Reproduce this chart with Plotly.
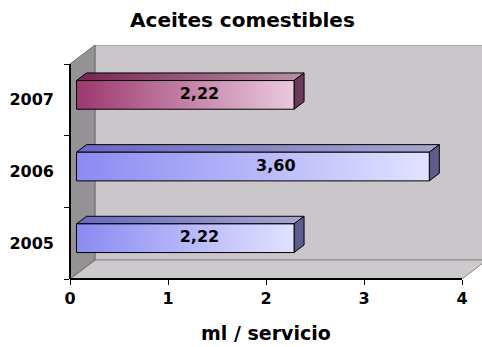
import plotly.graph_objects as go

# --- data ---------------------------------------------------------------
years = ["2005", "2006", "2007"]
values = [2.22, 3.60, 2.22]
x_ticks = [0, 1, 2, 3, 4]
title_text = "Aceites comestibles"
x_title = "ml / servicio"

# --- 3D projection helpers (oblique: depth goes right and up) ------------
DX = 25 / 98.0     # depth shift along x (axis units) for full depth
DY = 19 / 71.67    # depth shift along y (category units) for full depth
XMAX = 4.0
YLO, YHI = -0.5, len(years) - 0.5
HALF = 0.2         # half bar thickness
ZF, ZB = 0.26, 0.66  # bar front/back depth


def proj(x, y, z):
    return x + z * DX, y + z * DY


def poly(pts):
    xs, ys = zip(*[proj(*p) for p in pts])
    return list(xs) + [xs[0]], list(ys) + [ys[0]]


def face(pts, fill=None, grad=None, line="#000000", lw=1):
    xs, ys = poly(pts)
    kw = dict(x=xs, y=ys, mode="lines", fill="toself",
              line=dict(color=line, width=lw), hoverinfo="skip",
              showlegend=False)
    if grad is not None:
        kw["fillgradient"] = dict(type="horizontal", colorscale=grad)
    else:
        kw["fillcolor"] = fill
    return go.Scatter(**kw)


fig = go.Figure()

# walls and floor
fig.add_trace(face([(0, YLO, 1), (XMAX, YLO, 1), (XMAX, YHI, 1), (0, YHI, 1)],
                   fill="#CAC6CA", line="#8A888A"))
fig.add_trace(face([(0, YLO, 0), (XMAX, YLO, 0), (XMAX, YLO, 1), (0, YLO, 1)],
                   fill="#CDC9CD", line="#8A888A"))
fig.add_trace(face([(0, YLO, 0), (0, YHI, 0), (0, YHI, 1), (0, YLO, 1)],
                   fill="#949294", line="#6E6E6E"))

# bar colours per year
styles = {
    "2005": dict(front=[[0, "#8A8AF2"], [1, "#E2E2FF"]],
                 top=[[0, "#6868C2"], [1, "#A6A6CE"]], side="#5C5C8E"),
    "2006": dict(front=[[0, "#8A8AF2"], [1, "#E2E2FF"]],
                 top=[[0, "#6868C2"], [1, "#A6A6CE"]], side="#5C5C8E"),
    "2007": dict(front=[[0, "#9C3870"], [1, "#EAC9DC"]],
                 top=[[0, "#782452"], [1, "#B892A4"]], side="#6A3A5A"),
}

for i, (yr, v) in enumerate(zip(years, values)):
    s = styles[yr]
    lo, hi = i - HALF, i + HALF
    # top face
    fig.add_trace(face([(0, hi, ZF), (v, hi, ZF), (v, hi, ZB), (0, hi, ZB)],
                       grad=s["top"]))
    # right end face
    fig.add_trace(face([(v, lo, ZF), (v, hi, ZF), (v, hi, ZB), (v, lo, ZB)],
                       fill=s["side"]))
    # front face
    fig.add_trace(face([(0, lo, ZF), (v, lo, ZF), (v, hi, ZF), (0, hi, ZF)],
                       grad=s["front"]))

# value labels
lx, ly = [], []
for i, v in enumerate(values):
    px, py = proj(v * 0.565, i, ZF)
    lx.append(px)
    ly.append(py)
fig.add_trace(go.Scatter(
    x=lx, y=ly, mode="text",
    text=[f"{v:.2f}".replace(".", ",") for v in values],
    textfont=dict(family="DejaVu Sans", size=16, color="#000000", weight="bold"),
    hoverinfo="skip", showlegend=False, cliponaxis=False))

tick_font = dict(family="DejaVu Sans", size=16, color="#000000", weight="bold")

fig.update_layout(
    width=482, height=347,
    margin=dict(l=70, r=0, t=45, b=68),
    paper_bgcolor="#FFFFFF", plot_bgcolor="#FFFFFF",
    title=dict(text=title_text, x=0.503, xref="container", xanchor="center",
               y=0.942, yref="container", yanchor="middle",
               font=dict(family="DejaVu Sans", size=20, color="#000000",
                         weight="bold")),
    xaxis=dict(range=[0, 412 / 98.0], tickvals=x_ticks,
               ticktext=[str(t) for t in x_ticks],
               ticks="outside", ticklen=5, tickcolor="#000000",
               showgrid=False, zeroline=False, showline=False,
               tickfont=tick_font, fixedrange=True),
    yaxis=dict(range=[YLO, YHI + DY], tickvals=list(range(len(years))),
               ticktext=years, ticks="", showgrid=False, zeroline=False,
               showline=False, tickfont=tick_font, ticklabelstandoff=15,
               minor=dict(tick0=-0.5, dtick=1, ticks="outside", ticklen=5,
                          tickcolor="#000000", showgrid=False),
               fixedrange=True),
    shapes=[
        dict(type="line", xref="x", yref="paper", x0=0, x1=XMAX, y0=0, y1=0,
             line=dict(color="#000000", width=2)),
        dict(type="line", xref="paper", yref="y", x0=0, x1=0, y0=YLO, y1=YHI,
             line=dict(color="#000000", width=2)),
    ],
    annotations=[
        dict(text=x_title, xref="paper", yref="paper", x=0.476, y=-0.231,
             xanchor="center", yanchor="middle", showarrow=False,
             font=dict(family="DejaVu Sans", size=19, color="#000000",
                       weight="bold")),
    ],
)

fig.write_html("out.html")
